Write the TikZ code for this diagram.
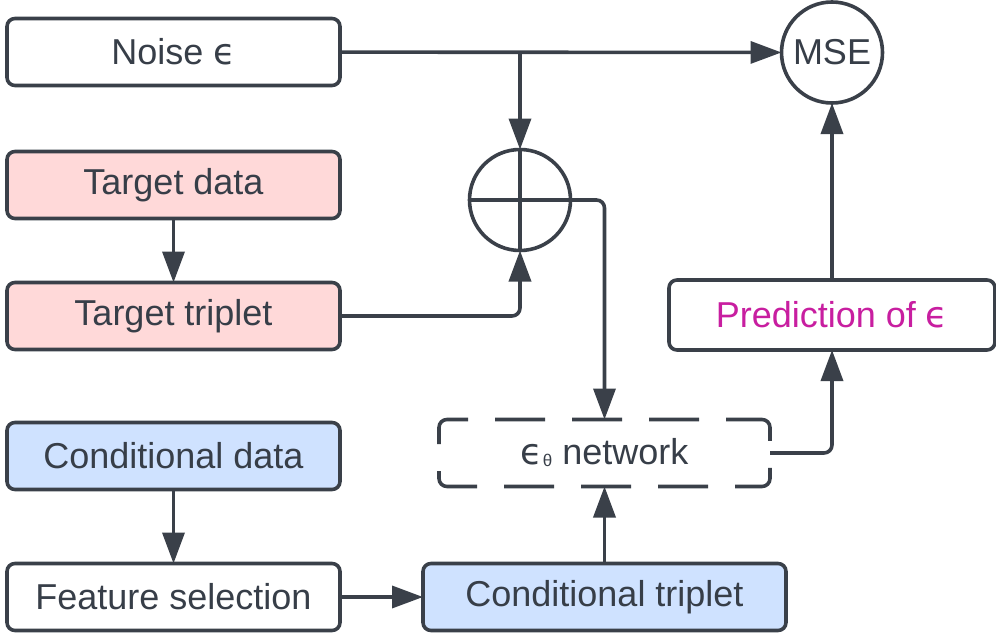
\documentclass[tikz,border=0pt]{standalone}
\usepackage{fontspec}
\setmainfont{Liberation Sans}
\newfontfamily\epsfont{DejaVu Sans}
\usetikzlibrary{arrows.meta,positioning}

\definecolor{edge}{RGB}{58,64,73}
\definecolor{ink}{RGB}{55,62,72}
\definecolor{pinkfill}{RGB}{255,217,217}
\definecolor{bluefill}{RGB}{207,226,255}
\definecolor{predclr}{RGB}{200,30,160}
\newcommand{\epsym}{{\epsfont ϵ}}

\begin{document}
\begin{tikzpicture}
        [x=1pt, y=-1pt,
        box/.style={rounded corners=8pt, rectangle, draw=edge, line width=3.6pt, fill=white, minimum width=333pt, minimum height=67pt, inner sep=0pt, outer sep=0pt, font=\fontsize{36}{40}\selectfont, text=ink},
        target/.style={box, fill=pinkfill},
        cond/.style={box, fill=bluefill},
        op/.style={circle, draw=edge, line width=3.6pt, fill=white, minimum size=101pt, inner sep=0pt, outer sep=0pt, font=\fontsize{36}{40}\selectfont, text=ink},
        link/.style={-{Triangle[length=31pt, width=22pt]}, line width=3.6pt, draw=edge}]
        \useasboundingbox (0,0) rectangle (996,637);
        \node[box] (noise) at (173.5,52) {Noise \epsym};
        \node[target, below=66pt of noise] (tdata) {Target data};
        \node[target, below=64pt of tdata] (ttrip) {Target triplet};
        \node[cond, below=73pt of ttrip] (cdata) {Conditional data};
        \node[box, below=74pt of cdata] (fsel) {Feature selection};
        \node[cond, right=83pt of fsel, minimum width=363pt] (ctrip) {Conditional triplet};
        \node[box, dash pattern=on 50pt off 27pt, dash phase=14pt, minimum width=331pt, above=77pt of ctrip] (net) {\epsym\raisebox{-2pt}{\fontsize{17}{17}\selectfont θ} network};
        \node[op] (plus) at (520,200) {};
        \node[box, minimum width=326pt, minimum height=70pt, text=predclr] (pred) at (832,315) {Prediction of \epsym};
        \node[op, above=177pt of pred] (mse) {MSE};
        \draw[edge, line width=3.6pt] (plus.north) -- (plus.south) (plus.west) -- (plus.east);
        \draw[link] (noise) -- (mse);
        \draw[link] (noise.east -| plus) -- (plus);
        \draw[link] (tdata) -- (ttrip);
        \draw[link, rounded corners=8pt] (ttrip) -| (plus);
        \draw[link, rounded corners=8pt] (plus) -| (net);
        \draw[link] (ctrip) -- (net);
        \draw[link, rounded corners=8pt] (net) -| (pred);
        \draw[link] (pred) -- (mse);
        \draw[link] (cdata) -- (fsel);
        \draw[link] (fsel) -- (ctrip);
    \end{tikzpicture}
\end{document}
